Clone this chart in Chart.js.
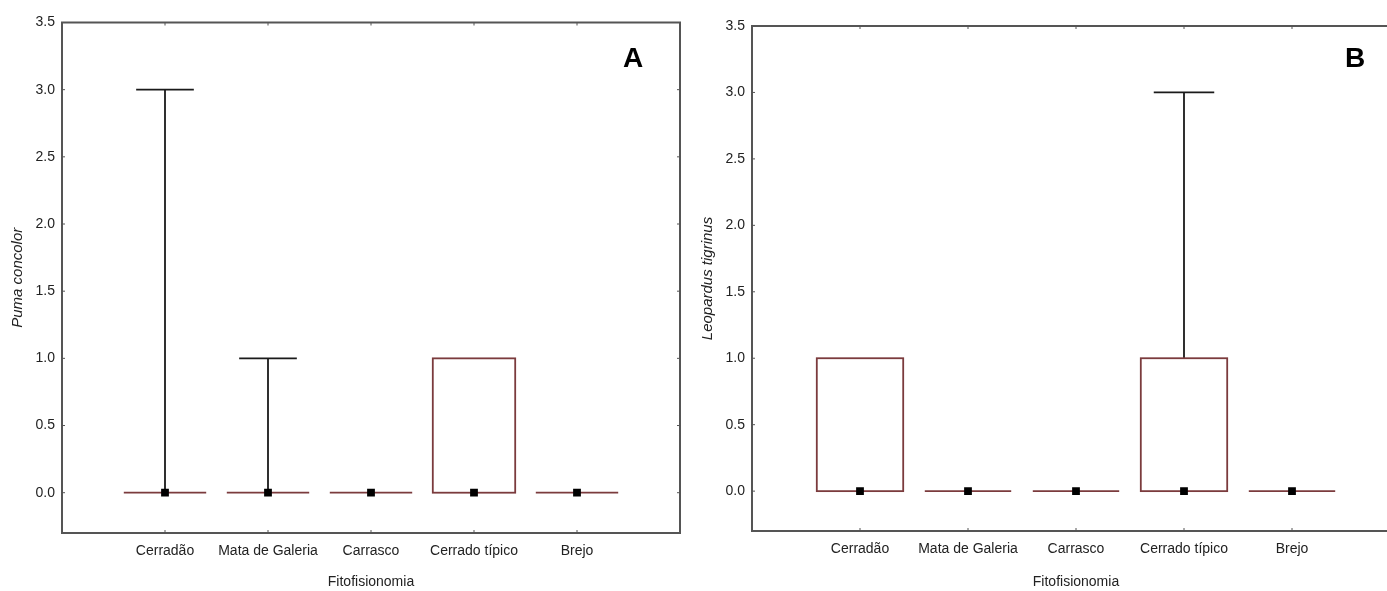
<!DOCTYPE html>
<html>
<head>
<meta charset="utf-8">
<script src="https://cdn.jsdelivr.net/npm/chart.js@4.4.1/dist/chart.umd.min.js"></script>
<style>
    html, body { margin: 0; padding: 0; background: #fff; overflow: hidden; }
    body { width: 1387px; height: 591px; position: relative; }
    .panel { position: absolute; top: 0; height: 591px; }
    #panelA { left: 0; width: 690px; }
    #panelB { left: 690px; width: 720px; }
    .tag { position: absolute; font: bold 28px "Liberation Sans", Arial, sans-serif; color: #000; line-height: 1; }
</style>
</head>
<body>
<div class="panel" id="panelA"><canvas id="chartA"></canvas></div>
<div class="panel" id="panelB"><canvas id="chartB"></canvas></div>
<div class="tag" style="left:623px; top:44px;">A</div>
<div class="tag" style="left:1345px; top:44px;">B</div>

<script>
// Categories (x axis)
const categories = ['Cerradão', 'Mata de Galeria', 'Carrasco', 'Cerrado típico', 'Brejo'];

// Y tick labels
const yTickValues = [0, 0.5, 1, 1.5, 2, 2.5, 3, 3.5];

// Panel A - Puma concolor
const pumaMin = [0, 0, 0, 0, 0];
const pumaQ1 = [0, 0, 0, 0, 0];
const pumaMedian = [0, 0, 0, 0, 0];
const pumaQ3 = [0, 0, 0, 1, 0];
const pumaMax = [3, 1, 0, 1, 0];

// Panel B - Leopardus tigrinus
const tigrinusMin = [0, 0, 0, 0, 0];
const tigrinusQ1 = [0, 0, 0, 0, 0];
const tigrinusMedian = [0, 0, 0, 0, 0];
const tigrinusQ3 = [1, 0, 0, 1, 0];
const tigrinusMax = [1, 0, 0, 3, 0];

Chart.defaults.font.family = '"Liberation Sans", Arial, sans-serif';
Chart.defaults.color = '#222';

// Draws frame, inner ticks, boxes and whiskers using the chart scales
const boxPlugin = {
    id: 'boxes',
    beforeDatasetsDraw(chart, args, opts) {
        const { ctx, chartArea: area, scales: { x, y } } = chart;
        const unit = x.getPixelForValue(1) - x.getPixelForValue(0);
        ctx.save();

        // frame
        ctx.strokeStyle = '#555';
        ctx.lineWidth = 2;
        ctx.strokeRect(area.left, area.top, area.right - area.left, area.bottom - area.top);

        // small inward ticks
        ctx.lineWidth = 1;
        categories.forEach((c, i) => {
            const px = x.getPixelForValue(i + 1);
            ctx.beginPath();
            ctx.moveTo(px, area.top); ctx.lineTo(px, area.top + 3);
            ctx.moveTo(px, area.bottom); ctx.lineTo(px, area.bottom - 3);
            ctx.stroke();
        });
        yTickValues.forEach(v => {
            const py = y.getPixelForValue(v);
            ctx.beginPath();
            ctx.moveTo(area.left, py); ctx.lineTo(area.left + 3, py);
            ctx.moveTo(area.right, py); ctx.lineTo(area.right - 3, py);
            ctx.stroke();
        });

        // whiskers and boxes
        categories.forEach((c, i) => {
            const cx = x.getPixelForValue(i + 1);
            const boxHalf = unit * 0.4;
            const capHalf = unit * 0.28;
            const q1 = y.getPixelForValue(opts.q1[i]);
            const q3 = y.getPixelForValue(opts.q3[i]);
            const lo = y.getPixelForValue(opts.min[i]);
            const hi = y.getPixelForValue(opts.max[i]);

            ctx.strokeStyle = '#1a1a1a';
            ctx.lineWidth = 1.8;
            if (opts.max[i] > opts.q3[i]) {
                ctx.beginPath();
                ctx.moveTo(cx, q3); ctx.lineTo(cx, hi);
                ctx.moveTo(cx - capHalf, hi); ctx.lineTo(cx + capHalf, hi);
                ctx.stroke();
            }
            if (opts.min[i] < opts.q1[i]) {
                ctx.beginPath();
                ctx.moveTo(cx, q1); ctx.lineTo(cx, lo);
                ctx.moveTo(cx - capHalf, lo); ctx.lineTo(cx + capHalf, lo);
                ctx.stroke();
            }

            ctx.strokeStyle = '#7b3b3d';
            ctx.lineWidth = 1.8;
            if (q3 === q1) {
                ctx.beginPath();
                ctx.moveTo(cx - boxHalf, q1); ctx.lineTo(cx + boxHalf, q1);
                ctx.stroke();
            } else {
                ctx.strokeRect(cx - boxHalf, q3, boxHalf * 2, q1 - q3);
            }
        });
        ctx.restore();
    }
};

function makeChart(id, title, stats, top, bottom) {
    return new Chart(document.getElementById(id), {
        type: 'scatter',
        data: {
            datasets: [{
                data: stats.median.map((m, i) => ({ x: i + 1, y: m })),
                pointStyle: 'rect',
                pointRadius: 5.5,
                pointHoverRadius: 5.5,
                backgroundColor: '#000',
                borderColor: '#000',
                borderWidth: 0
            }]
        },
        options: {
            responsive: true,
            maintainAspectRatio: false,
            animation: false,
            layout: { padding: { top: top, right: 10, left: 0, bottom: 0 } },
            plugins: {
                legend: { display: false },
                tooltip: { enabled: false },
                boxes: stats
            },
            scales: {
                x: {
                    type: 'linear',
                    min: 0,
                    max: 6,
                    afterBuildTicks: scale => {
                        scale.ticks = categories.map((c, i) => ({ value: i + 1 }));
                    },
                    afterFit: scale => { scale.height = 591 - bottom; },
                    ticks: {
                        autoSkip: false,
                        maxRotation: 0,
                        padding: 10,
                        font: { size: 14 },
                        callback: v => categories[v - 1]
                    },
                    grid: { display: false, drawTicks: false },
                    border: { display: false },
                    title: {
                        display: true,
                        text: 'Fitofisionomia',
                        font: { size: 14 },
                        padding: { top: 0, bottom: 0 }
                    }
                },
                y: {
                    min: -0.3,
                    max: 3.5,
                    afterBuildTicks: scale => {
                        scale.ticks = yTickValues.map(v => ({ value: v }));
                    },
                    afterFit: scale => { scale.width = 62; },
                    ticks: {
                        padding: 7,
                        font: { size: 14 },
                        callback: v => v.toFixed(1)
                    },
                    grid: { display: false, drawTicks: false },
                    border: { display: false },
                    title: {
                        display: true,
                        text: title,
                        font: { size: 15, style: 'italic' },
                        padding: { top: 9, bottom: 0 }
                    }
                }
            }
        },
        plugins: [boxPlugin]
    });
}

makeChart('chartA', 'Puma concolor', {
    min: pumaMin, q1: pumaQ1, median: pumaMedian, q3: pumaQ3, max: pumaMax
}, 22.5, 533);

makeChart('chartB', 'Leopardus tigrinus', {
    min: tigrinusMin, q1: tigrinusQ1, median: tigrinusMedian, q3: tigrinusQ3, max: tigrinusMax
}, 26, 531);
</script>
</body>
</html>
